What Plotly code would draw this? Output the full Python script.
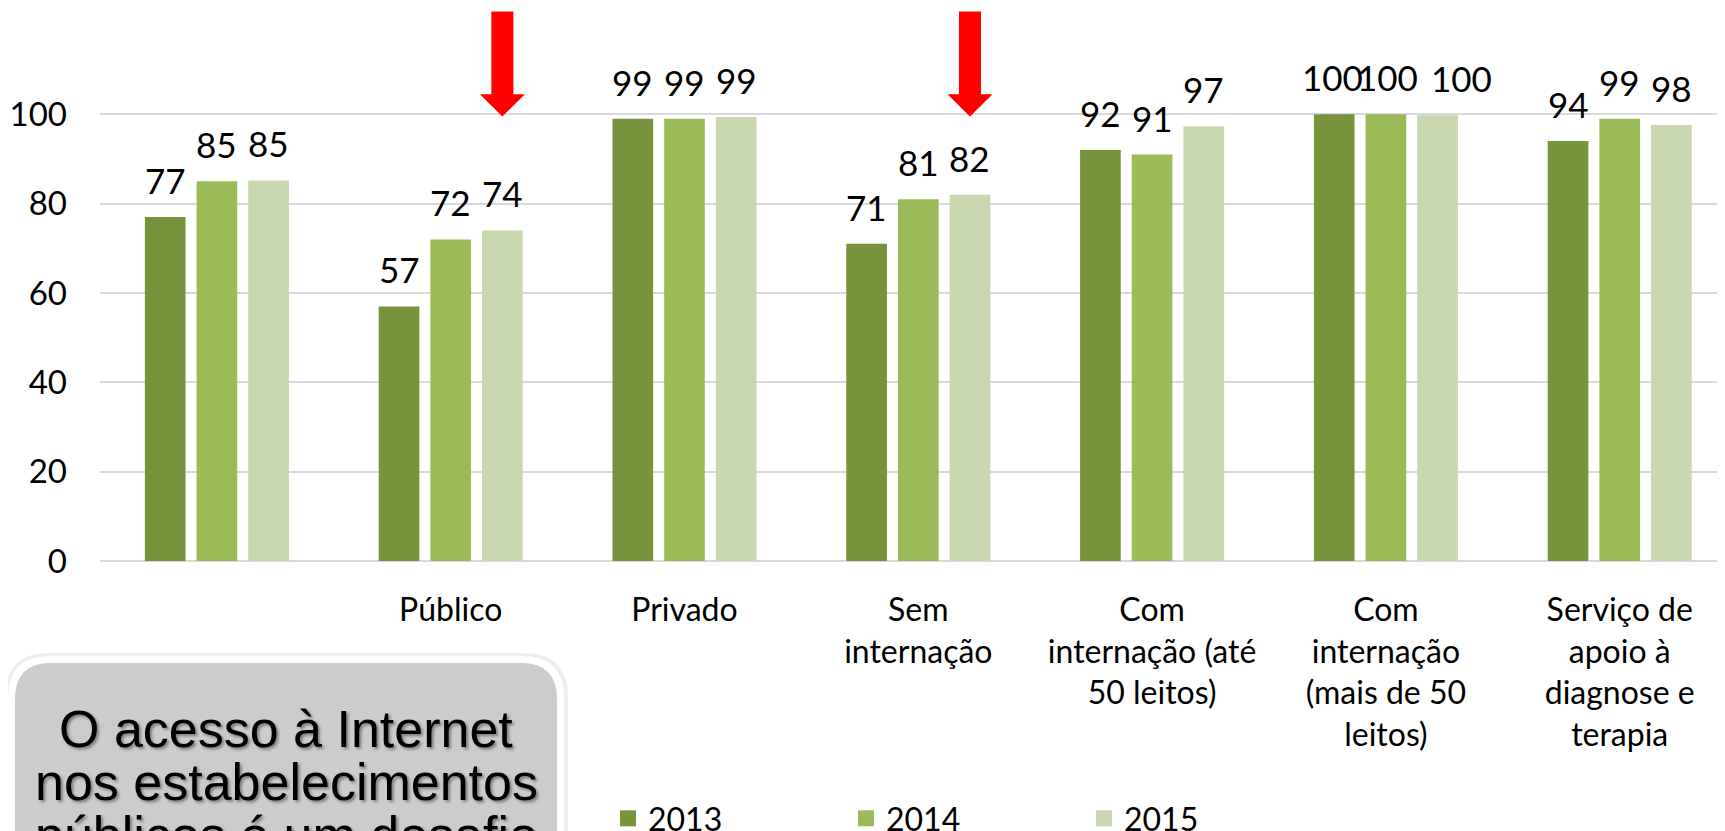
import plotly.graph_objects as go

# ---------------- data ----------------
categories = ["", "Público", "Privado", "Sem<br>internação",
              "Com<br>internação (até<br>50 leitos)",
              "Com<br>internação<br>(mais de 50<br>leitos)",
              "Serviço de<br>apoio à<br>diagnose e<br>terapia"]
years = ["2013", "2014", "2015"]
v2013 = [77, 57, 99, 71, 92, 100, 94]
v2014 = [85, 72, 99, 81, 91, 100, 99]
v2015 = [85.2, 74, 99.4, 82, 97.3, 99.8, 97.6]
labels2013 = [77, 57, 99, 71, 92, 100, 94]
labels2014 = [85, 72, 99, 81, 91, 100, 99]
labels2015 = [85, 74, 99, 82, 97, 100, 98]
y_ticks = [0, 20, 40, 60, 80, 100]
highlighted = ["Público", "Sem<br>internação"]
note_lines = ["O acesso à Internet", "nos estabelecimentos", "públicos é um desafio"]

colors = ["#77933C", "#9BBB59", "#C8D7AD"]
series = [v2013, v2014, v2015]
series_labels = [labels2013, labels2014, labels2015]
# label nudges (px) as placed in the original slide
label_nudge_2013 = [0, 0, 0, 0, 0, -2, 0]
label_nudge_2014 = [0, 0, 0, 0, 0, 2, 0]
label_nudge_2015 = [0, 0, 0, 0, 0, 24, 0]
label_nudges = [label_nudge_2013, label_nudge_2014, label_nudge_2015]

# page has an 8px body margin -> figure is 8px smaller, coords below are figure px
W, H = 1717, 823
ML, MT = 92, 0
Y0 = 553                      # pixel of y = 0
PX_PER_UNIT = 4.467
MB = H - Y0
PW, PH = W - ML, Y0 - MT
BARGAP = 0.337
BARGROUPGAP = 0.213
xs = list(range(len(categories)))
cat_px = 233.8
xmax = -0.5 + PW / cat_px
ymax = PH / PX_PER_UNIT

fig = go.Figure()
for yr, vals, col in zip(years, series, colors):
    fig.add_trace(go.Bar(x=xs, y=vals, name=yr, marker_color=col,
                         marker_line_width=0, showlegend=False))
# legend entries (larger square symbols)
for yr, col in zip(years, colors):
    fig.add_trace(go.Scatter(x=[None], y=[None], mode="markers", name=yr,
                             marker=dict(symbol="square", size=16, color=col)))

slot = (1 - BARGAP) / 3
annotations = []
for k, (vals, labs, nud) in enumerate(zip(series, series_labels, label_nudges)):
    off = (k - 1) * slot
    for i, (v, lab, n) in enumerate(zip(vals, labs, nud)):
        annotations.append(dict(x=i + off, y=v, xref="x", yref="y", text=str(lab),
                                showarrow=False, yanchor="bottom", yshift=14, xshift=n,
                                font=dict(family="Lato", size=35, color="black")))

def px2paper(X, Y):
    return (X - ML) / PW, (MT + PH - Y) / PH

shapes = []
# red arrows above highlighted categories (2015 bar)
for cat in highlighted:
    i = categories.index(cat)
    cx = i + slot
    sw, hw = 11.0 / cat_px, 22.5 / cat_px
    ytop, yhead, ytip = 123.0, 104.5, 99.5
    path = (f"M{cx-sw},{ytop} L{cx+sw},{ytop} L{cx+sw},{yhead} L{cx+hw},{yhead} "
            f"L{cx},{ytip} L{cx-hw},{yhead} L{cx-sw},{yhead} Z")
    shapes.append(dict(type="path", path=path, xref="x", yref="y",
                       fillcolor="#FF0000", line=dict(width=0), layer="above"))

def rounded(x0, y0, x1, y1, r):
    def P(X, Y):
        a, b = px2paper(X, Y)
        return f"{a},{b}"
    return (f"M{P(x0+r,y0)} L{P(x1-r,y0)} Q{P(x1,y0)} {P(x1,y0+r)} "
            f"L{P(x1,y1-r)} Q{P(x1,y1)} {P(x1-r,y1)} L{P(x0+r,y1)} "
            f"Q{P(x0,y1)} {P(x0,y1-r)} L{P(x0,y0+r)} Q{P(x0,y0)} {P(x0+r,y0)} Z")

# shadow, white border, grey box
shapes.append(dict(type="path", path=rounded(-3, 645, 560, 900, 44), xref="paper", yref="paper",
                   fillcolor="rgba(0,0,0,0.07)", line=dict(width=0), layer="above"))
shapes.append(dict(type="path", path=rounded(0, 648, 556, 900, 42), xref="paper", yref="paper",
                   fillcolor="white", line=dict(width=0), layer="above"))
shapes.append(dict(type="path", path=rounded(7, 655, 549, 900, 36), xref="paper", yref="paper",
                   fillcolor="#CCCCCC", line=dict(width=0), layer="above"))

line_centers = [721, 774, 827]
for txt, yc in zip(note_lines, line_centers):
    tx, ty = px2paper(278, yc)
    annotations.append(dict(x=tx, y=ty, xref="paper", yref="paper", showarrow=False,
                            xanchor="center", yanchor="middle", text=txt,
                            font=dict(family="Liberation Sans, Arial", size=52, color="black",
                                      shadow="2px 2px 3px rgba(0,0,0,0.4)")))

fig.update_layout(
    width=W, height=H,
    margin=dict(l=ML, r=0, t=MT, b=MB, autoexpand=False),
    paper_bgcolor="white", plot_bgcolor="white",
    barmode="group", bargap=BARGAP, bargroupgap=BARGROUPGAP,
    font=dict(family="Lato", color="black"),
    xaxis=dict(range=[-0.5, xmax], tickmode="array", tickvals=xs, ticktext=categories,
               showgrid=False, zeroline=False, showline=False, ticks="",
               tickfont=dict(family="Lato", size=32, color="black"),
               ticklabelstandoff=27),
    yaxis=dict(range=[0, ymax], tickmode="array", tickvals=y_ticks,
               showgrid=True, gridcolor="#D9D9D9", gridwidth=2,
               zeroline=True, zerolinecolor="#D9D9D9", zerolinewidth=2,
               showline=False, ticks="",
               tickfont=dict(family="Lato", size=33, color="black"),
               ticklabelstandoff=32),
    showlegend=True,
    legend=dict(orientation="h", x=(600 - ML) / PW, xanchor="left",
                y=(Y0 - 783) / PH, yanchor="top", entrywidth=193,
                font=dict(family="Lato", size=32, color="black"),
                bgcolor="rgba(0,0,0,0)", itemsizing="trace", itemclick=False),
    annotations=annotations, shapes=shapes,
)

fig.write_html("out.html")
